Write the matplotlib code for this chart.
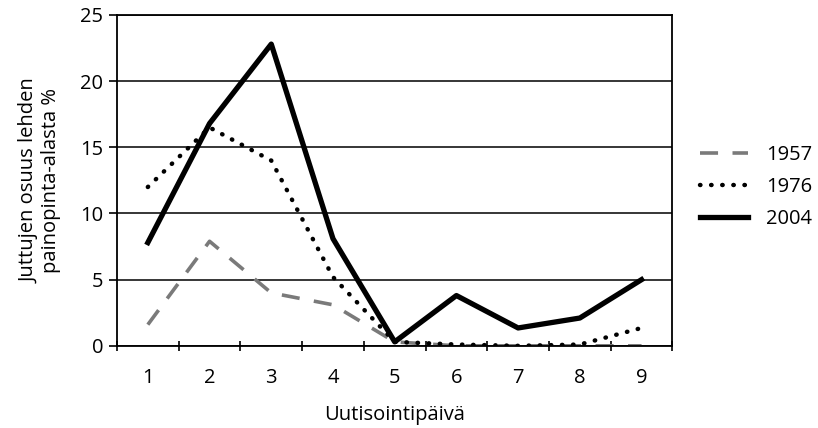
import matplotlib
matplotlib.use("Agg")
import matplotlib.pyplot as plt
import numpy as np

plt.rcParams["font.family"] = ["Open Sans", "DejaVu Sans"]

days = [1, 2, 3, 4, 5, 6, 7, 8, 9]
y1957 = [1.6, 7.9, 4.0, 3.1, 0.3, 0.0, 0.0, 0.0, 0.0]
y1976 = [12.0, 16.5, 14.0, 5.2, 0.3, 0.1, 0.0, 0.1, 1.35]
y2004 = [7.8, 16.8, 22.8, 8.1, 0.3, 3.8, 1.35, 2.1, 5.0]

fs = 14.5

fig = plt.figure(figsize=(8.18, 4.28), dpi=100)
ax = fig.add_axes([0.143, 0.192, 0.679, 0.773])

ax.plot(days, y1957, color="#7a7a7a", linewidth=2.6, linestyle=(0, (5, 4)), label="1957")
ax.plot(days, y1976, color="black", linewidth=3.2, linestyle=(0, (0.1, 2.4)),
        dash_capstyle="round", label="1976")
ax.plot(days, y2004, color="black", linewidth=3.8, label="2004")

ax.set_xlim(0.5, 9.5)
ax.set_ylim(0, 25)
ax.set_yticks([0, 5, 10, 15, 20, 25])
ax.set_xticks(days)
ax.set_xticks(np.arange(0.5, 10, 1), minor=True)
ax.tick_params(axis="x", which="major", length=0, pad=16, labelsize=fs)
ax.tick_params(axis="x", which="minor", length=7, width=1.2, direction="inout")
ax.tick_params(axis="y", length=6, width=1.2, direction="out", labelsize=fs, pad=4)
ax.yaxis.grid(True, color="black", linewidth=1.1)
for s in ax.spines.values():
    s.set_linewidth(1.3)
    s.set_color("black")

ax.set_xlabel("Uutisointipäivä", fontsize=fs, labelpad=12)
ax.set_ylabel("Juttujen osuus lehden\npainopinta-alasta %", fontsize=fs, labelpad=14,
              linespacing=1.05)

fig.legend(loc="upper left", bbox_to_anchor=(700 / 818, 1 - 145 / 428), frameon=False,
           fontsize=fs, handlelength=2.4, labelspacing=0.6, handletextpad=0.9,
           borderpad=0, borderaxespad=0)

fig.savefig("out.png", dpi=100)
